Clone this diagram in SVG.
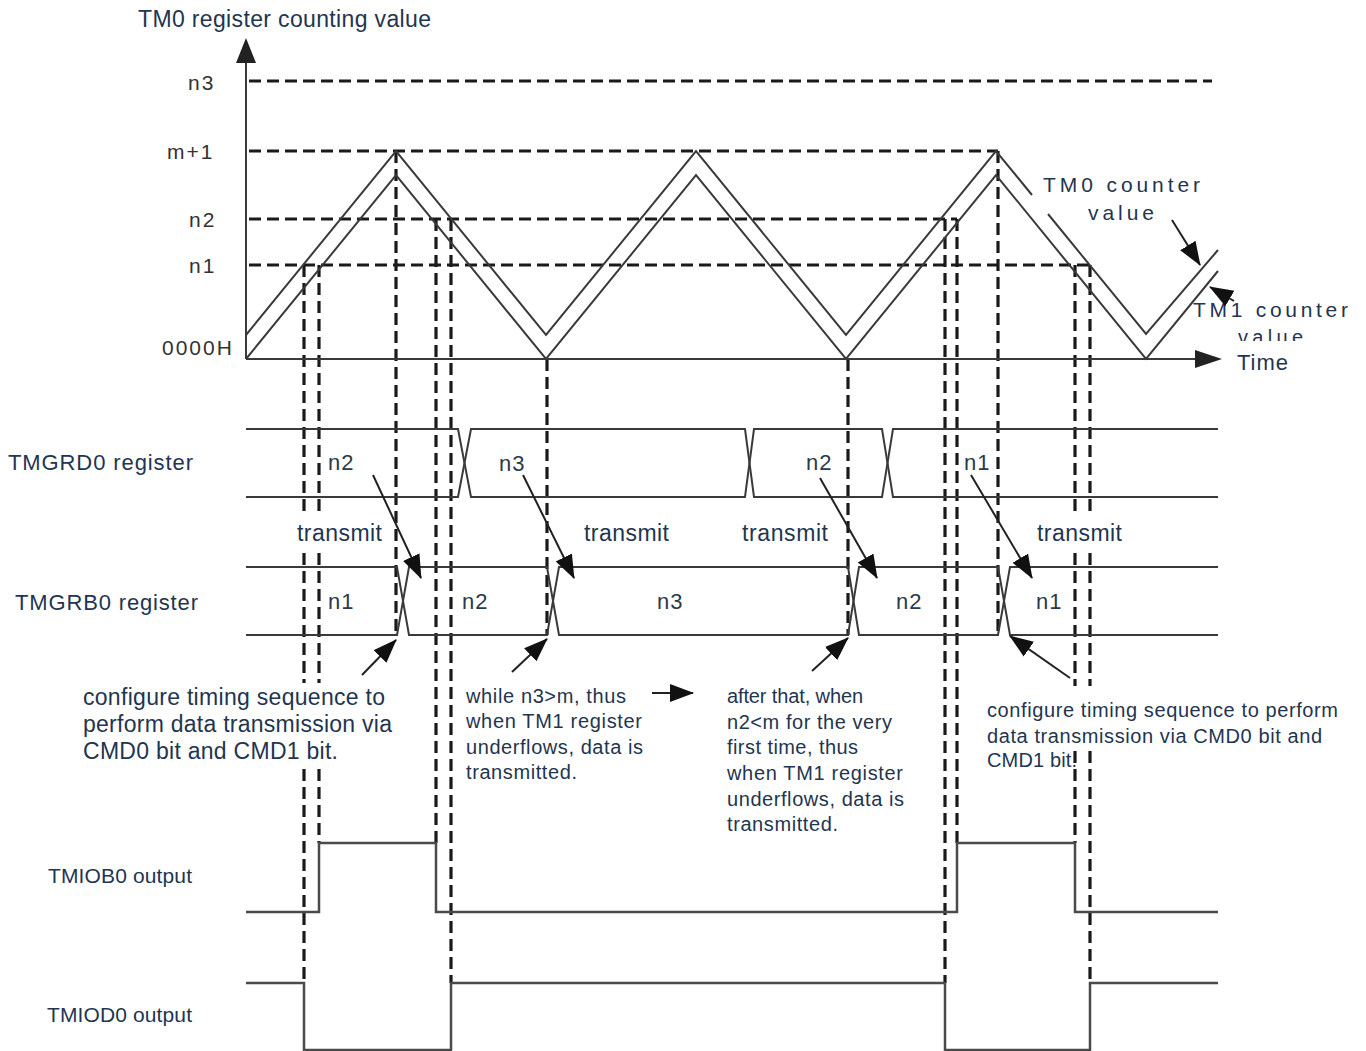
<svg xmlns="http://www.w3.org/2000/svg" width="1366" height="1051" viewBox="0 0 1366 1051">
<style>
.t{font-family:"Liberation Sans",Arial,Helvetica,sans-serif;fill:#1f3550}
.f23{font-size:23px}
.f22{font-size:22px}
.f21{font-size:21px}
.f20{font-size:20px}
.lv{font-family:"Liberation Sans",Arial,Helvetica,sans-serif;font-size:21px;fill:#333;letter-spacing:2px}
.bl{font-family:"Liberation Sans",Arial,Helvetica,sans-serif;font-size:22px;fill:#2a3a4c;letter-spacing:1px}
.s{fill:none;stroke:#3a3a3a;stroke-width:2}
.w{fill:none;stroke:#4a4a4a;stroke-width:2.5}
.d{fill:none;stroke:#1a1a1a;stroke-width:3.2;stroke-dasharray:12 6}
.a{fill:none;stroke:#222;stroke-width:2;marker-end:url(#ah)}
.bg{fill:#fff}
</style>
<defs>
<marker id="ah" markerUnits="userSpaceOnUse" markerWidth="24" markerHeight="20" refX="23" refY="10" orient="auto"><path d="M0,1 L24,10 L0,19 z" fill="#111"/></marker>
<clipPath id="clipv"><rect x="1220" y="320" width="120" height="21"/></clipPath>
</defs>
<rect width="1366" height="1051" fill="#fff"/>

<g id="guides">
<path class="d" d="M249,81 H1212 M249,151 H998 M249,219 H957 M249,265 H1090"/>
<path class="d" d="M304,265 V983 M319,265 V843 M396,151 V635 M436,219 V843 M451,219 V983 M547,359 V635 M848,359 V635 M945,219 V983 M957,219 V843 M998,151 V635 M1075,265 V843 M1090,265 V983"/>
</g>

<g id="axes">
<path class="s" stroke-width="2.5" d="M246,359 V60 M246,359 H1198"/>
<polygon points="246,38 236,63 256,63" fill="#222"/>
<polygon points="1222,359 1195,350 1195,368" fill="#222"/>
<text class="t f23" x="138" y="27" textLength="293" lengthAdjust="spacing">TM0 register counting value</text>
<text class="lv" x="188" y="90">n3</text>
<text class="lv" x="167" y="159">m+1</text>
<text class="lv" x="189" y="227">n2</text>
<text class="lv" x="189" y="273">n1</text>
<text class="lv" x="162" y="355" letter-spacing="1">0000H</text>
<text class="t f22" x="1237" y="370" textLength="51" lengthAdjust="spacing">Time</text>
</g>

<g id="tm0-counter">
<polyline class="s" points="246,335 396,151 546,335 696,151 846,335 996,151 1032,195"/>
<polyline class="s" points="1048,214 1146,334 1218,250"/>
<text class="t f21" x="1043" y="192" textLength="157" lengthAdjust="spacing">TM0 counter</text>
<text class="t f21" x="1088" y="220" textLength="66" lengthAdjust="spacing">value</text>
</g>

<g id="tm1-counter">
<polyline class="s" points="246,359 396,175 546,359 696,175 846,359 996,175 1146,359 1218,271"/>
<text class="t f21" x="1193" y="317" textLength="155" lengthAdjust="spacing">TM1 counter</text>
<text class="t f20" x="1238" y="344" textLength="65" lengthAdjust="spacing" clip-path="url(#clipv)">value</text>
</g>

<g id="tmgrd0">
<path class="s" d="M246,429 H458 L471,497 H745 L754,429 H882 L893,497 H1218"/>
<path class="s" d="M246,497 H458 L471,429 H745 L754,497 H882 L893,429 H1218"/>
<text class="t f22" x="8" y="470" textLength="185" lengthAdjust="spacing">TMGRD0 register</text>
<text class="bl" x="328" y="470">n2</text>
<text class="bl" x="499" y="471">n3</text>
<text class="bl" x="806" y="470">n2</text>
<text class="bl" x="964" y="470">n1</text>
</g>

<g id="transmit-labels">
<rect class="bg" x="296" y="517" width="90" height="34"/>
<rect class="bg" x="1035" y="517" width="90" height="34"/>
<text class="t f23" x="297" y="541" textLength="85" lengthAdjust="spacing">transmit</text>
<text class="t f23" x="584" y="541" textLength="85" lengthAdjust="spacing">transmit</text>
<text class="t f23" x="742" y="541" textLength="86" lengthAdjust="spacing">transmit</text>
<text class="t f23" x="1037" y="541" textLength="85" lengthAdjust="spacing">transmit</text>
</g>

<g id="tmgrb0">
<path class="s" d="M246,567 H397 L409,635 H547 L559,567 H848 L859,635 H998 L1010,567 H1218"/>
<path class="s" d="M246,635 H397 L409,567 H547 L559,635 H848 L859,567 H998 L1010,635 H1218"/>
<text class="t f22" x="15" y="610" textLength="183" lengthAdjust="spacing">TMGRB0 register</text>
<text class="bl" x="328" y="609">n1</text>
<text class="bl" x="462" y="609">n2</text>
<text class="bl" x="657" y="609">n3</text>
<text class="bl" x="896" y="609">n2</text>
<text class="bl" x="1036" y="609">n1</text>
</g>

<g id="note-1">
<rect class="bg" x="80" y="683" width="318" height="83"/>
<text class="t f23" x="83" y="705" textLength="302" lengthAdjust="spacing">configure timing sequence to</text>
<text class="t f23" x="83" y="732" textLength="309" lengthAdjust="spacing">perform data transmission via</text>
<text class="t f23" x="83" y="759" textLength="255" lengthAdjust="spacing">CMD0 bit and CMD1 bit.</text>
</g>

<g id="note-2">
<text class="t f20" x="466" y="703" textLength="160" lengthAdjust="spacing">while n3&gt;m, thus</text>
<text class="t f20" x="466" y="728" textLength="176" lengthAdjust="spacing">when TM1 register</text>
<text class="t f20" x="466" y="754" textLength="177" lengthAdjust="spacing">underflows, data is</text>
<text class="t f20" x="466" y="779" textLength="111" lengthAdjust="spacing">transmitted.</text>
</g>

<g id="note-3">
<text class="t f20" x="727" y="703" textLength="136" lengthAdjust="spacing">after that, when</text>
<text class="t f20" x="727" y="729" textLength="165" lengthAdjust="spacing">n2&lt;m for the very</text>
<text class="t f20" x="727" y="754" textLength="131" lengthAdjust="spacing">first time, thus</text>
<text class="t f20" x="727" y="780" textLength="176" lengthAdjust="spacing">when TM1 register</text>
<text class="t f20" x="727" y="806" textLength="177" lengthAdjust="spacing">underflows, data is</text>
<text class="t f20" x="727" y="831" textLength="111" lengthAdjust="spacing">transmitted.</text>
</g>

<g id="note-4">
<rect class="bg" x="984" y="686" width="358" height="64"/>
<text class="t f20" x="987" y="717" textLength="351" lengthAdjust="spacing">configure timing sequence to perform</text>
<text class="t f20" x="987" y="743" textLength="335" lengthAdjust="spacing">data transmission via CMD0 bit and</text>
<text class="t f20" x="987" y="767" textLength="90" lengthAdjust="spacing">CMD1 bit.</text>
</g>

<g id="tmiob0">
<path class="w" d="M246,912 H319 V843 H436 V912 H957 V843 H1075 V912 H1218"/>
<text class="t f21" x="48" y="883" textLength="144" lengthAdjust="spacing">TMIOB0 output</text>
</g>

<g id="tmiod0">
<path class="w" d="M246,983 H304 V1050 H451 V983 H945 V1050 H1090 V983 H1218"/>
<text class="t f21" x="47" y="1022" textLength="145" lengthAdjust="spacing">TMIOD0 output</text>
</g>

<g id="connectors">
<line class="a" x1="373" y1="475" x2="421" y2="578"/>
<line class="a" x1="523" y1="475" x2="574" y2="578"/>
<line class="a" x1="820" y1="478" x2="877" y2="578"/>
<line class="a" x1="971" y1="475" x2="1032" y2="578"/>
<line class="a" x1="362" y1="675" x2="396" y2="640"/>
<line class="a" x1="512" y1="672" x2="547" y2="639"/>
<line class="a" x1="812" y1="671" x2="848" y2="638"/>
<line class="a" x1="1070" y1="678" x2="1010" y2="636"/>
<line class="a" x1="652" y1="693" x2="693" y2="693"/>
<line class="a" x1="1172" y1="220" x2="1200" y2="265"/>
<line class="a" x1="1234" y1="301" x2="1210" y2="287"/>
</g>
</svg>
